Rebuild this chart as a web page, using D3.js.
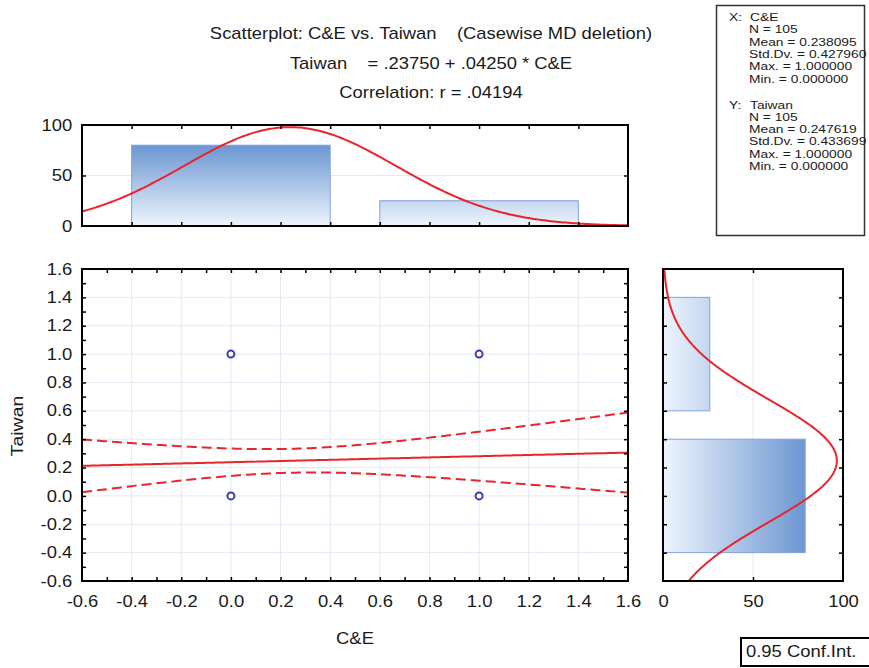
<!DOCTYPE html>
<html><head><meta charset="utf-8">
<script src="https://cdn.jsdelivr.net/npm/d3@7/dist/d3.min.js"></script>
<style>
body{margin:0;background:#fff}
svg{display:block}
text{font-family:"Liberation Sans",Arial,Helvetica,sans-serif;fill:#1a1a1a;white-space:pre}
</style>
</head><body>
<svg id="c" width="869" height="668"></svg>
<script>
// ---------- data ----------
const xName = "C&E";
const yName = "Taiwan";
const pointX = [0, 0, 1, 1];
const pointY = [0, 1, 0, 1];
const xBinStart = [-0.4, 0.6];
const xBinEnd = [0.4, 1.4];
const xBinCount = [80, 25];
const yBinStart = [-0.4, 0.6];
const yBinEnd = [0.4, 1.4];
const yBinCount = [79, 26];
const nObs = 105;
const statLabels = ["N", "Mean", "Std.Dv.", "Max.", "Min."];
const statsX = ["105", "0.238095", "0.427960", "1.000000", "0.000000"];
const statsY = ["105", "0.247619", "0.433699", "1.000000", "0.000000"];
const meanX = 0.238095, sdX = 0.427960, meanY = 0.247619, sdY = 0.433699;
const intercept = 0.23750, slope = 0.04250, corr = 0.04194;
const tCrit = 1.983; // t(0.975, df=103)
const axisTicks = [-0.6, -0.4, -0.2, 0.0, 0.2, 0.4, 0.6, 0.8, 1.0, 1.2, 1.4, 1.6];
const countTicks = [0, 50, 100];
const titleLines = [
  "Scatterplot: C&E vs. Taiwan    (Casewise MD deletion)",
  "Taiwan    = .23750 + .04250 * C&E",
  "Correlation: r = .04194"
];
const confLabel = "0.95 Conf.Int.";

(function () {
// ---------- layout ----------
const SX = 1.15;
const M = {l: 82, r: 628, t: 269, b: 581};
const TH = {t: 125, b: 226};
const RH = {l: 663, r: 843};
const red = "#e8252b";

const svg = d3.select("#c");
const defs = svg.append("defs");

const x = d3.scaleLinear().domain([-0.6, 1.6]).range([M.l, M.r]);
const y = d3.scaleLinear().domain([-0.6, 1.6]).range([M.b, M.t]);
const hy = d3.scaleLinear().domain([0, 100]).range([TH.b, TH.t]);
const hx = d3.scaleLinear().domain([0, 100]).range([RH.l, RH.r]);

function label(parent, px, py, s, anchor, size, sx) {
  return parent.append("text")
    .attr("transform", `translate(${px},${py}) scale(${sx || SX},1)`)
    .attr("text-anchor", anchor || "start")
    .attr("font-size", size || 16)
    .text(s);
}

// gradients
const gTop = defs.append("linearGradient").attr("id", "gTop")
  .attr("gradientUnits", "userSpaceOnUse")
  .attr("x1", 0).attr("x2", 0).attr("y1", hy(0)).attr("y2", hy(100));
gTop.append("stop").attr("offset", 0).attr("stop-color", "#eef5fd");
gTop.append("stop").attr("offset", 1).attr("stop-color", "#4a7ec6");
const gRight = defs.append("linearGradient").attr("id", "gRight")
  .attr("gradientUnits", "userSpaceOnUse")
  .attr("y1", 0).attr("y2", 0).attr("x1", hx(0)).attr("x2", hx(100));
gRight.append("stop").attr("offset", 0).attr("stop-color", "#eef5fd");
gRight.append("stop").attr("offset", 1).attr("stop-color", "#4a7ec6");

defs.append("clipPath").attr("id", "clipMain").append("rect")
  .attr("x", M.l).attr("y", M.t).attr("width", M.r - M.l).attr("height", M.b - M.t);
defs.append("clipPath").attr("id", "clipTop").append("rect")
  .attr("x", M.l).attr("y", TH.t).attr("width", M.r - M.l).attr("height", TH.b - TH.t);
defs.append("clipPath").attr("id", "clipRight").append("rect")
  .attr("x", RH.l).attr("y", M.t).attr("width", RH.r - RH.l).attr("height", M.b - M.t);

// ---------- titles ----------
const titleY = [39, 69, 98];
titleLines.forEach((s, i) => label(svg, 431, titleY[i], s, "middle", 16));

// ---------- grids ----------
const gridColor = "#e4e8f3";
const innerTicks = axisTicks.slice(1, -1);
const grid = svg.append("g").attr("stroke", gridColor).attr("stroke-width", 1);
grid.selectAll(".vx").data(innerTicks).join("line")
  .attr("x1", d => x(d)).attr("x2", d => x(d)).attr("y1", M.t).attr("y2", M.b);
grid.selectAll(".hy").data(innerTicks).join("line")
  .attr("y1", d => y(d)).attr("y2", d => y(d)).attr("x1", M.l).attr("x2", M.r);
grid.append("line").attr("x1", M.l).attr("x2", M.r).attr("y1", hy(50)).attr("y2", hy(50));
grid.append("line").attr("y1", M.t).attr("y2", M.b).attr("x1", hx(50)).attr("x2", hx(50));

// ---------- top histogram ----------
const topG = svg.append("g");
topG.selectAll("rect").data(xBinCount).join("rect")
  .attr("x", (d, i) => x(xBinStart[i]))
  .attr("width", (d, i) => x(xBinEnd[i]) - x(xBinStart[i]))
  .attr("y", d => hy(d))
  .attr("height", d => hy(0) - hy(d))
  .attr("fill", "url(#gTop)").attr("stroke", "#7ea3dc").attr("stroke-width", 1);

function normCount(v, m, s) {
  return nObs * Math.exp(-0.5 * ((v - m) / s) ** 2) / (s * Math.sqrt(2 * Math.PI));
}
const xs = d3.range(-0.6, 1.6001, 0.01);
topG.append("path").attr("clip-path", "url(#clipTop)")
  .attr("d", d3.line().x(v => x(v)).y(v => hy(normCount(v, meanX, sdX)))(xs))
  .attr("fill", "none").attr("stroke", red).attr("stroke-width", 2);

// ---------- right histogram ----------
const rh = svg.append("g");
rh.selectAll("rect").data(yBinCount).join("rect")
  .attr("y", (d, i) => y(yBinEnd[i]))
  .attr("height", (d, i) => y(yBinStart[i]) - y(yBinEnd[i]))
  .attr("x", hx(0))
  .attr("width", d => hx(d) - hx(0))
  .attr("fill", "url(#gRight)").attr("stroke", "#7ea3dc").attr("stroke-width", 1);
rh.append("path").attr("clip-path", "url(#clipRight)")
  .attr("d", d3.line().y(v => y(v)).x(v => hx(normCount(v, meanY, sdY)))(xs))
  .attr("fill", "none").attr("stroke", red).attr("stroke-width", 2);

// ---------- scatter: regression + confidence band ----------
const sxx = (nObs - 1) * sdX * sdX;
const sRes = Math.sqrt((nObs - 1) * sdY * sdY * (1 - corr * corr) / (nObs - 2));
const fit = v => intercept + slope * v;
const hw = v => tCrit * sRes * Math.sqrt(1 / nObs + (v - meanX) ** 2 / sxx);
const main = svg.append("g").attr("clip-path", "url(#clipMain)");
main.append("path")
  .attr("d", d3.line().x(v => x(v)).y(v => y(fit(v)))(xs))
  .attr("fill", "none").attr("stroke", red).attr("stroke-width", 2);
[1, -1].forEach(sg => {
  main.append("path")
    .attr("d", d3.line().x(v => x(v)).y(v => y(fit(v) + sg * hw(v)))(xs))
    .attr("fill", "none").attr("stroke", red).attr("stroke-width", 2)
    .attr("stroke-dasharray", "10,5");
});
main.selectAll("circle").data(pointX).join("circle")
  .attr("cx", d => x(d)).attr("cy", (d, i) => y(pointY[i]))
  .attr("r", 3.5).attr("fill", "#fff").attr("stroke", "#3a3db0").attr("stroke-width", 2);

// ---------- tick marks ----------
const minor = d3.range(-5, 16).map(d => d / 10);
function marks(gen, tx, ty, vals) {
  const g = svg.append("g").attr("transform", `translate(${tx},${ty})`)
    .call(gen.tickValues(vals).tickSizeInner(-4).tickSizeOuter(0).tickFormat(""));
  g.select(".domain").remove();
  g.selectAll("line").attr("stroke", "#000").attr("stroke-width", 1.5);
}
marks(d3.axisBottom(x), 0, M.b, minor);
marks(d3.axisTop(x), 0, M.t, minor);
marks(d3.axisLeft(y), M.l, 0, minor);
marks(d3.axisRight(y), M.r, 0, minor);
marks(d3.axisBottom(x), 0, TH.b, innerTicks);
marks(d3.axisTop(x), 0, TH.t, innerTicks);
marks(d3.axisLeft(hy), M.l, 0, [50]);
marks(d3.axisRight(hy), M.r, 0, [50]);
marks(d3.axisLeft(y), RH.l, 0, innerTicks);
marks(d3.axisRight(y), RH.r, 0, innerTicks);
marks(d3.axisTop(hx), 0, M.t, [50]);
marks(d3.axisBottom(hx), 0, M.b, [50]);

// ---------- tick labels ----------
function labels(gen, tx, ty, vals, fmt, isLeft) {
  const g = svg.append("g").attr("transform", `translate(${tx},${ty})`)
    .call(gen.tickValues(vals).tickSize(0).tickPadding(isLeft ? 8.5 : 14.6).tickFormat(fmt));
  g.select(".domain").remove();
  g.selectAll("text").attr("font-size", 16).attr("fill", "#1a1a1a")
    .attr("transform", `scale(${SX},1)`);
}
const f1 = d => d.toFixed(1);
labels(d3.axisBottom(x), 0, M.b, axisTicks, f1, false);
labels(d3.axisLeft(y), M.l, 0, axisTicks, f1, true);
labels(d3.axisLeft(hy), M.l, 0, countTicks, d => String(d), true);
labels(d3.axisBottom(hx), 0, M.b, countTicks, d => String(d), false);

// ---------- frames ----------
const frame = svg.append("g").attr("fill", "none").attr("stroke", "#000").attr("stroke-width", 2);
frame.append("rect").attr("x", M.l).attr("y", M.t).attr("width", M.r - M.l).attr("height", M.b - M.t);
frame.append("rect").attr("x", M.l).attr("y", TH.t).attr("width", M.r - M.l).attr("height", TH.b - TH.t);
frame.append("rect").attr("x", RH.l).attr("y", M.t).attr("width", RH.r - RH.l).attr("height", M.b - M.t);

// ---------- axis titles ----------
label(svg, 355, 644, xName, "middle", 16);
svg.append("text").attr("transform", "translate(23,426) rotate(-90) scale(1.15,1)")
  .attr("text-anchor", "middle").attr("font-size", 17).text(yName);

// ---------- stats box ----------
svg.append("rect").attr("x", 716.5).attr("y", 5.5).attr("width", 148).attr("height", 230)
  .attr("fill", "#fff").attr("stroke", "#333").attr("stroke-width", 1.5);
const statBlock = (prefix, name, vals, y0) => {
  label(svg, 729, y0, prefix, "start", 11.5, 1.2);
  label(svg, 750, y0, name, "start", 11.5, 1.2);
  vals.forEach((v, i) => label(svg, 749, y0 + 12.3 * (i + 1), `${statLabels[i]} = ${v}`, "start", 11.5, 1.2));
};
statBlock("X:", xName, statsX, 21);
statBlock("Y:", yName, statsY, 108.5);

// ---------- conf. int. legend ----------
svg.append("rect").attr("x", 741).attr("y", 638).attr("width", 140).attr("height", 28)
  .attr("fill", "#fff").attr("stroke", "#000").attr("stroke-width", 2);
label(svg, 746, 657, confLabel, "start", 16);
})();
</script>
</body></html>
